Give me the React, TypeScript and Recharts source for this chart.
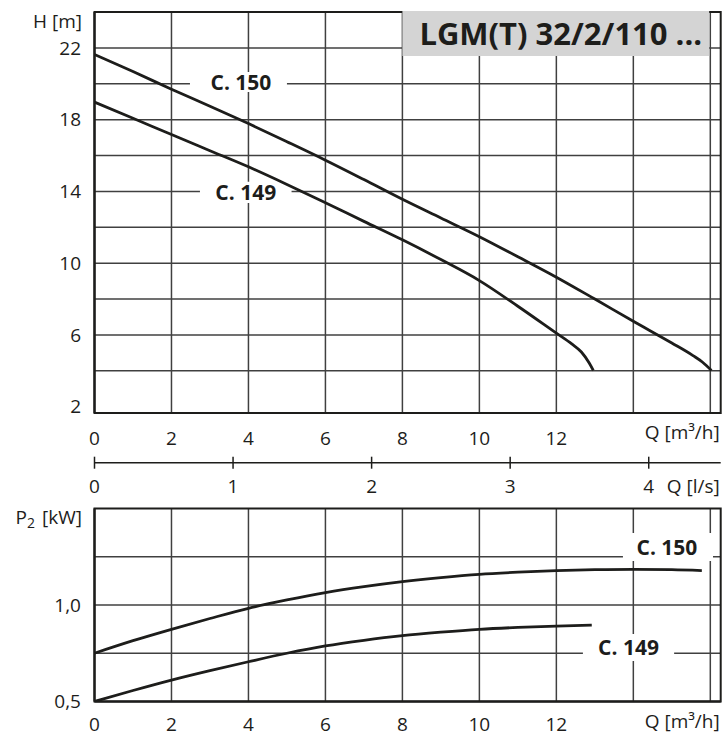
import React from "react";
import { LineChart, Line, XAxis, YAxis, CartesianGrid, ReferenceArea } from "recharts";

const FONT = "'Open Sans', sans-serif";
const INK = "#1d1d1b";
const GRID = "#404040";

// flow axis Q [m3/h], with the l/s scale under it
const qMax = 16.27;
const qTicks = [0, 2, 4, 6, 8, 10, 12, 14, 16];
const qLabelled = [0, 2, 4, 6, 8, 10, 12];
const lsTicks = [0, 1, 2, 3, 4];
const M3H_PER_LS = 3.6;

// head H [m]
const hMin = 1.65;
const hMax = 24;
const hTicks = [2, 6, 10, 14, 18, 22];
const hGrid = [4, 6, 8, 10, 12, 14, 16, 18, 20, 22];

// head curves
const q150 = [0, 1, 2, 3, 4, 5, 6, 7, 8, 9, 10, 11, 12, 13, 14, 15, 15.55, 15.8, 16.03];
const h150 = [21.63, 20.68, 19.7, 18.75, 17.78, 16.77, 15.74, 14.66, 13.56, 12.52, 11.48, 10.36, 9.22, 8.0, 6.76, 5.55, 4.85, 4.48, 4.02];
const q149 = [0, 1, 2, 3, 4, 5, 6, 7, 8, 9, 10, 11, 12, 12.4, 12.65, 12.85, 12.96];
const h149 = [18.98, 18.08, 17.17, 16.27, 15.37, 14.39, 13.37, 12.33, 11.3, 10.2, 9.03, 7.6, 6.1, 5.5, 5.05, 4.45, 4.02];

// power P2 [kW]
const pTicks = [0.5, 0.75, 1, 1.25];
const pLabelled = [0.5, 1];
const qp150 = [0, 1, 2, 3, 4, 5, 6, 7, 8, 9, 10, 11, 12, 13, 14, 15, 15.78];
const p150 = [0.75, 0.815, 0.874, 0.93, 0.983, 1.026, 1.064, 1.095, 1.121, 1.142, 1.159, 1.17, 1.178, 1.183, 1.185, 1.183, 1.178];
const qp149 = [0, 1, 2, 3, 4, 5, 6, 7, 8, 9, 10, 11, 12, 12.92];
const p149 = [0.5, 0.557, 0.611, 0.66, 0.706, 0.75, 0.788, 0.817, 0.841, 0.859, 0.874, 0.884, 0.891, 0.896];

const zip = (q: number[], v: number[]) => q.map((x, i) => ({ q: x, v: v[i] }));
const head150 = zip(q150, h150);
const head149 = zip(q149, h149);
const pow150 = zip(qp150, p150);
const pow149 = zip(qp149, p149);

const tickStyle = { fill: INK, fontSize: 19, fontFamily: FONT };

const boxText = (text: string, size: number, dx = 0, dy = 0) => (p: any) => {
  const vb = p.viewBox;
  return (
    <text
      x={vb.x + vb.width / 2 + dx}
      y={vb.y + vb.height / 2 + dy}
      textAnchor="middle"
      dominantBaseline="central"
      fontFamily={FONT}
      fontWeight={700}
      fontSize={size}
      fill={INK}
    >
      {text}
    </text>
  );
};

const qUnitLabel = (p: any) => {
  const vb = p.viewBox;
  return (
    <text x={vb.x + vb.width - 1} y={vb.y + 26} textAnchor="end" fontFamily={FONT} fontSize={19} fill={INK}>
      Q [m³/h]
    </text>
  );
};

const hLabel = (p: any) => {
  const vb = p.viewBox;
  return (
    <text x={82} y={vb.y + 16} textAnchor="end" fontFamily={FONT} fontSize={19} fill={INK}>
      H [m]
    </text>
  );
};

const pLabel = (p: any) => {
  const vb = p.viewBox;
  return (
    <text x={82} y={vb.y + 15} textAnchor="end" fontFamily={FONT} fontSize={19} fill={INK}>
      P<tspan fontSize={14} dy={4}>2</tspan>
      <tspan dy={-4} dx={7}>[kW]</tspan>
    </text>
  );
};

function LsTick(props: any) {
  const { x, y, payload } = props;
  const ls = Math.round(payload.value / M3H_PER_LS);
  const last = ls === lsTicks[lsTicks.length - 1];
  return (
    <g>
      <line x1={x} x2={x} y1={y - 6} y2={y + 6} stroke={INK} strokeWidth={1.5} />
      <text x={x} y={y + 30} textAnchor="middle" fontFamily={FONT} fontSize={19} fill={INK}>
        {ls}
      </text>
      {last && (
        <text x={x + 18} y={y + 30} textAnchor="start" fontFamily={FONT} fontSize={19} fill={INK}>
          Q [l/s]
        </text>
      )}
    </g>
  );
}

function HeadChart() {
  return (
    <LineChart width={723} height={502} margin={{ top: 12, right: 2.3, left: 0, bottom: 0 }}>
      <CartesianGrid xAxisId="main" horizontalValues={hGrid} verticalValues={qTicks} stroke={GRID} strokeWidth={1.5} />
      <XAxis
        xAxisId="main"
        dataKey="q"
        type="number"
        domain={[0, qMax]}
        allowDataOverflow
        ticks={qTicks}
        tickFormatter={(v: number) => (qLabelled.includes(v) ? String(v) : "")}
        height={49.7}
        tickSize={0}
        tickMargin={19}
        tickLine={false}
        axisLine={{ stroke: INK, strokeWidth: 2 }}
        tick={tickStyle}
        label={qUnitLabel}
      />
      <XAxis
        xAxisId="sec"
        dataKey="q"
        type="number"
        domain={[0, qMax]}
        allowDataOverflow
        ticks={lsTicks.map((v) => v * M3H_PER_LS)}
        height={39.3}
        tickSize={0}
        tickMargin={0}
        tickLine={false}
        axisLine={{ stroke: INK, strokeWidth: 1.5 }}
        tick={(p: any) => <LsTick {...p} />}
      />
      <YAxis
        type="number"
        domain={[hMin, hMax]}
        allowDataOverflow
        ticks={hTicks}
        width={94.5}
        tickSize={0}
        tickMargin={13.5}
        tickLine={false}
        axisLine={{ stroke: INK, strokeWidth: 2 }}
        tick={tickStyle}
        label={hLabel}
      />
      <ReferenceArea xAxisId="main" x1={0} x2={qMax} y1={hMin} y2={hMax} fill="none" stroke={INK} strokeWidth={2} />
      <ReferenceArea
        xAxisId="main"
        x1={8}
        x2={15.97}
        y1={21.55}
        y2={24.06}
        ifOverflow="visible"
        fill="#d4d4d4"
        fillOpacity={1}
        stroke="none"
        label={boxText("LGM(T) 32/2/110 ...", 31, 5)}
      />
      <ReferenceArea xAxisId="main" x1={2.48} x2={5.0} y1={19.54} y2={20.66} fill="#fff" fillOpacity={1} stroke="none" label={boxText("C. 150", 21, 2.5)} />
      <ReferenceArea xAxisId="main" x1={2.74} x2={5.12} y1={13.35} y2={14.54} fill="#fff" fillOpacity={1} stroke="none" label={boxText("C. 149", 21)} />
      <Line xAxisId="main" data={head150} dataKey="v" type="monotone" stroke={INK} strokeWidth={2.8} dot={false} isAnimationActive={false} />
      <Line xAxisId="main" data={head149} dataKey="v" type="monotone" stroke={INK} strokeWidth={2.8} dot={false} isAnimationActive={false} />
    </LineChart>
  );
}

function PowerChart() {
  return (
    <LineChart width={723} height={247} margin={{ top: 18.5, right: 2.3, left: 0, bottom: 0 }}>
      <CartesianGrid horizontalValues={pTicks} verticalValues={qTicks} stroke={GRID} strokeWidth={1.5} />
      <XAxis
        dataKey="q"
        type="number"
        domain={[0, qMax]}
        allowDataOverflow
        ticks={qTicks}
        tickFormatter={(v: number) => (qLabelled.includes(v) ? String(v) : "")}
        height={35.5}
        tickSize={0}
        tickMargin={16.5}
        tickLine={false}
        axisLine={{ stroke: INK, strokeWidth: 2 }}
        tick={tickStyle}
        label={qUnitLabel}
      />
      <YAxis
        type="number"
        domain={[0.5, 1.5]}
        allowDataOverflow
        ticks={pTicks}
        tickFormatter={(v: number) => (pLabelled.includes(v) ? v.toFixed(1).replace(".", ",") : "")}
        width={94.5}
        tickSize={0}
        tickMargin={13.5}
        tickLine={false}
        axisLine={{ stroke: INK, strokeWidth: 2 }}
        tick={tickStyle}
        label={pLabel}
      />
      <ReferenceArea x1={0} x2={qMax} y1={0.5} y2={1.5} fill="none" stroke={INK} strokeWidth={2} />
      <ReferenceArea x1={13.73} x2={16.07} y1={1.228} y2={1.373} fill="#fff" fillOpacity={1} stroke="none" label={boxText("C. 150", 21, -1)} />
      <ReferenceArea x1={12.69} x2={15.06} y1={0.71} y2={0.85} fill="#fff" fillOpacity={1} stroke="none" label={boxText("C. 149", 21)} />
      <Line data={pow150} dataKey="v" type="monotone" stroke={INK} strokeWidth={2.8} dot={false} isAnimationActive={false} />
      <Line data={pow149} dataKey="v" type="monotone" stroke={INK} strokeWidth={2.8} dot={false} isAnimationActive={false} />
    </LineChart>
  );
}

export default function App() {
  return (
    <div style={{ position: "absolute", left: 0, top: 0, width: 723, height: 737, background: "#fff" }}>
      <div style={{ position: "absolute", left: 0, top: 0 }}>
        <HeadChart />
      </div>
      <div style={{ position: "absolute", left: 0, top: 490 }}>
        <PowerChart />
      </div>
    </div>
  );
}
